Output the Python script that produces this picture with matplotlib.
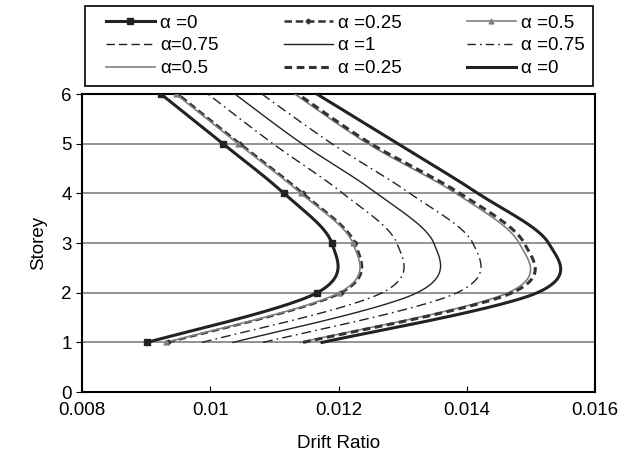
import numpy as np
import matplotlib
matplotlib.use('Agg')
from matplotlib import pyplot as plt
from matplotlib.lines import Line2D
from matplotlib.patches import Rectangle

plt.rcParams['font.family'] = ['Liberation Sans', 'DejaVu Sans']

storey = [1, 2, 3, 4, 5, 6]

# drift ratio per storey
a0_left = [0.009014, 0.011665, 0.011895, 0.011150, 0.010199, 0.009232]
a25_left = [0.009341, 0.012039, 0.012254, 0.011446, 0.010464, 0.009497]
a5_left = [0.009310, 0.012008, 0.012223, 0.011415, 0.010433, 0.009466]
a75_left = [0.009871, 0.012679, 0.012909, 0.012070, 0.010979, 0.009965]
a1 = [0.010355, 0.013224, 0.013486, 0.012600, 0.011431, 0.010386]
a75_right = [0.010823, 0.013848, 0.014094, 0.013115, 0.011899, 0.010807]
a5_right = [0.011400, 0.014643, 0.014817, 0.013832, 0.012460, 0.011322]
a25_right = [0.011446, 0.014706, 0.014895, 0.013895, 0.012507, 0.011369]
a0_right = [0.011743, 0.015096, 0.015275, 0.014176, 0.012928, 0.011665]

labels = ['\u03b1 =0', '\u03b1 =0.25', '\u03b1 =0.5', '\u03b1=0.75', '\u03b1 =1',
          '\u03b1 =0.75', '\u03b1=0.5', '\u03b1 =0.25', '\u03b1 =0']


def smooth(xs, ys, n=30):
    # catmull-rom, like Excel's smoothed line
    p = np.column_stack([xs, ys])
    p = np.vstack([p[0], p, p[-1]])
    out = []
    for i in range(1, len(p) - 2):
        p0, p1, p2, p3 = p[i - 1], p[i], p[i + 1], p[i + 2]
        t = np.linspace(0, 1, n)[:, None]
        seg = 0.5 * ((2 * p1) + (-p0 + p2) * t + (2 * p0 - 5 * p1 + 4 * p2 - p3) * t ** 2
                     + (-p0 + 3 * p1 - 3 * p2 + p3) * t ** 3)
        out.append(seg)
    out = np.vstack(out)
    return out[:, 0], out[:, 1]


dk = '#222222'
gr = '#808080'
dashdot = (0, (7, 3, 1.2, 3))
styles = [
    dict(color=dk, lw=2.2, ls='-', marker='s', ms=4),
    dict(color='#333333', lw=1.8, ls=(0, (3, 1.5)), marker='D', ms=2.5),
    dict(color=gr, lw=1.2, ls='-', marker='^', ms=3.5),
    dict(color=dk, lw=1.0, ls=dashdot, marker=None, ms=0),
    dict(color=dk, lw=1.0, ls='-', marker=None, ms=0),
    dict(color=dk, lw=1.0, ls=dashdot, marker=None, ms=0),
    dict(color=gr, lw=1.2, ls='-', marker=None, ms=0),
    dict(color='#333333', lw=2.2, ls=(0, (2.5, 1.5)), marker=None, ms=0),
    dict(color=dk, lw=2.2, ls='-', marker=None, ms=0),
]
legend_ls = [None, None, None, (0, (6, 3)), None, (0, (6, 3, 1.2, 3)), None, None, None]
series = [a0_left, a25_left, a5_left, a75_left, a1, a75_right, a5_right, a25_right, a0_right]

fig = plt.figure(figsize=(6.31, 4.57), dpi=100)
ax = fig.add_axes([0.130, 0.142, 0.813, 0.652])

handles = []
for vals, st, lab, lls in zip(series, styles, labels, legend_ls):
    sx, sy = smooth(vals, storey)
    ax.plot(sx, sy, color=st['color'], lw=st['lw'], ls=st['ls'], zorder=3)
    if st['marker']:
        ax.plot(vals, storey, ls='none', marker=st['marker'], ms=st['ms'],
                color=st['color'], zorder=4)
    handles.append(Line2D([], [], color=st['color'], lw=st['lw'],
                          ls=lls if lls else st['ls'],
                          marker=st['marker'], ms=st['ms']))

ax.set_xlim(0.008, 0.016)
ax.set_ylim(0, 6)
ax.set_xticks([0.008, 0.010, 0.012, 0.014, 0.016])
ax.set_xticklabels(['0.008', '0.01', '0.012', '0.014', '0.016'])
ax.set_yticks(range(7))
ax.yaxis.grid(True, color='#808080', lw=1.2)
ax.set_axisbelow(True)
ax.tick_params(labelsize=13.5, color='black', length=4)
ax.tick_params(axis='x', direction='in', pad=7)
for sp in ax.spines.values():
    sp.set_linewidth(1.5)
ax.set_xlabel('Drift Ratio', fontsize=13.5, labelpad=12)
ax.set_ylabel('Storey', fontsize=13.5, labelpad=10)

# legend frame drawn separately, entries laid out inside it
fig.add_artist(Rectangle((0.135, 0.812), 0.805, 0.175, transform=fig.transFigure,
                         fill=False, edgecolor='black', lw=1.2))
order = [0, 3, 6, 1, 4, 7, 2, 5, 8]
leg = fig.legend([handles[i] for i in order], [labels[i] for i in order],
                 ncol=3, loc='center left', bbox_to_anchor=(0.165, 0.812, 0.765, 0.175),
                 mode='expand', fontsize=13.5, frameon=False,
                 handlelength=2.6, handletextpad=0.3,
                 borderaxespad=0, labelspacing=0.3, borderpad=0.1, columnspacing=1.0)

fig.savefig('out.png', dpi=100)
plt.close()
